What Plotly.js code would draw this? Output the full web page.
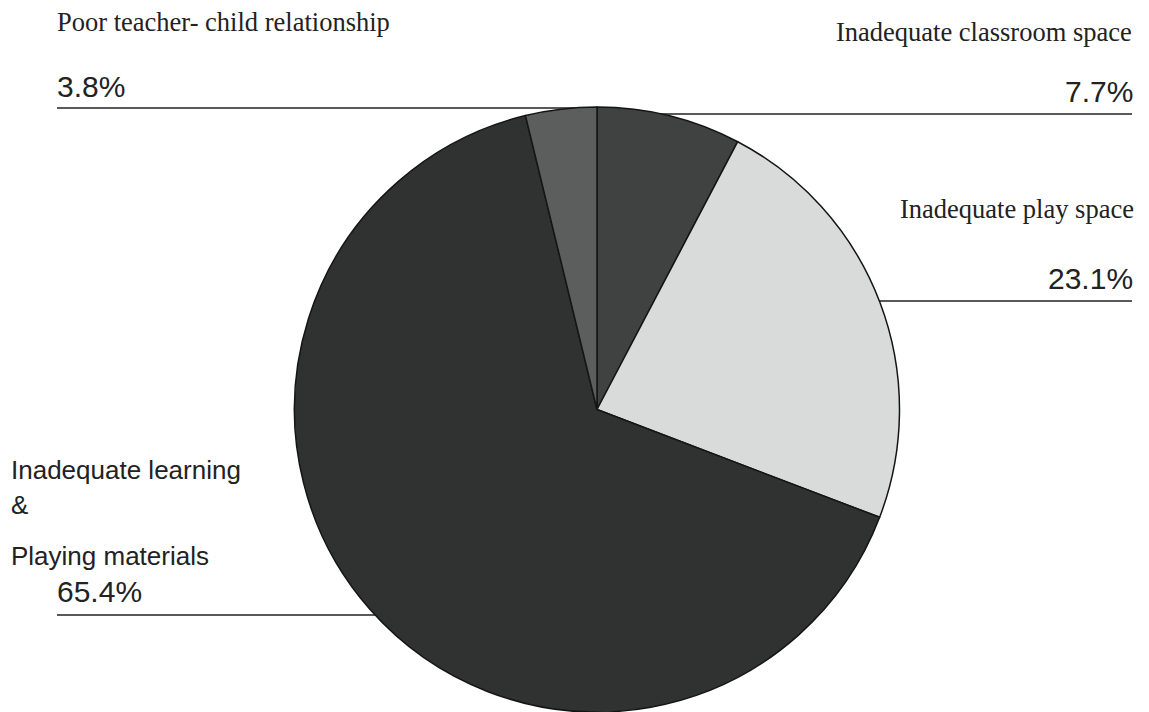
<!DOCTYPE html>
<html>
<head>
<meta charset="utf-8">
<script src="https://cdn.plot.ly/plotly-3.0.1.min.js"></script>
<style>
  html, body { margin: 0; padding: 0; background: #ffffff; }
  #chart { width: 1149px; height: 712px; }
</style>
</head>
<body>
<div id="chart"></div>
<script>
// ---- data ----
const categories = [
  "Inadequate classroom space",
  "Inadequate play space",
  "Inadequate learning & Playing materials",
  "Poor teacher- child relationship"
];
const shares = [7.7, 23.1, 65.4, 3.8];
const pctLabels = ["7.7%", "23.1%", "65.4%", "3.8%"];
const learningLabelLines = ["Inadequate learning", "&", "Playing materials"];

// ---- styles ----
const sliceColors = ["#404241", "#d9dbdb", "#2f3231", "#5c5e5d"];
const W = 1149, H = 712;
const px = x => x / W;
const py = y => 1 - y / H;
const serif = { family: "Liberation Serif, Times New Roman, serif", size: 26.5, color: "#222222" };
const sans = { family: "Liberation Sans, Arial, sans-serif", size: 30, color: "#222222" };
const sansLabel = { family: "Liberation Sans, Arial, sans-serif", size: 26, color: "#222222" };

function ann(text, x, y, xanchor, font) {
  return { text: text, xref: "paper", yref: "paper", x: px(x), y: py(y),
           xanchor: xanchor, yanchor: "middle", showarrow: false, font: font };
}
function hline(x0, x1, y) {
  return { type: "line", xref: "paper", yref: "paper", x0: px(x0), x1: px(x1),
           y0: py(y), y1: py(y), layer: "below", line: { color: "#222222", width: 1.5 } };
}

const trace = {
  type: "pie",
  labels: categories,
  values: shares,
  sort: false,
  direction: "clockwise",
  rotation: 0,
  textinfo: "none",
  hoverinfo: "label+percent",
  marker: { colors: sliceColors, line: { color: "#151515", width: 1.5 } },
  domain: { x: [293 / W, 901 / W], y: [0, 605 / H] },
  showlegend: false
};

const layout = {
  width: W, height: H,
  margin: { l: 0, r: 0, t: 0, b: 0 },
  paper_bgcolor: "#ffffff",
  showlegend: false,
  shapes: [
    hline(57, 597, 108),
    hline(597, 1132, 114),
    hline(800, 1132, 301),
    hline(57, 450, 615)
  ],
  annotations: [
    ann(categories[3], 55, 22, "left", serif),
    ann(pctLabels[3], 55, 86, "left", sans),
    ann(categories[0], 1134, 32, "right", serif),
    ann(pctLabels[0], 1135, 91, "right", sans),
    ann(categories[1], 1136, 209, "right", serif),
    ann(pctLabels[1], 1135, 278, "right", sans),
    ann(learningLabelLines[0], 9, 470, "left", sansLabel),
    ann(learningLabelLines[1], 9, 505, "left", sansLabel),
    ann(learningLabelLines[2], 9, 556, "left", sansLabel),
    ann(pctLabels[2], 55, 591, "left", sans)
  ]
};

Plotly.newPlot("chart", [trace], layout, { displayModeBar: false, staticPlot: true });
</script>
</body>
</html>
